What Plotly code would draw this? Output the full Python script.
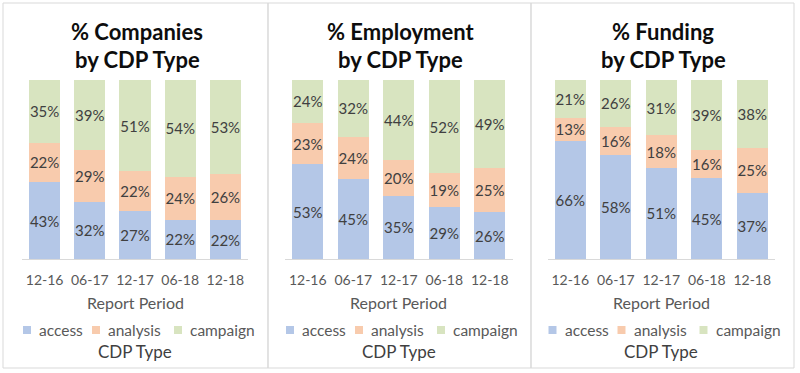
import plotly.graph_objects as go

# ---- data ----
periods = ["12-16", "06-17", "12-17", "06-18", "12-18"]
series_names = ["access", "analysis", "campaign"]

companies_access = [43, 32, 27, 22, 22]
companies_analysis = [22, 29, 22, 24, 26]
companies_campaign = [35, 39, 51, 54, 53]

employment_access = [53, 45, 35, 29, 26]
employment_analysis = [23, 24, 20, 19, 25]
employment_campaign = [24, 32, 44, 52, 49]

funding_access = [66, 58, 51, 45, 37]
funding_analysis = [13, 16, 18, 16, 25]
funding_campaign = [21, 26, 31, 39, 38]

title_line1 = ["% Companies", "% Employment", "% Funding"]
title_line2 = "by CDP Type"
x_title = "Report Period"
legend_title = "CDP Type"

# ---- styling ----
W, H = 800, 373
FONT = "Lato"
colors = ["#b4c7e7", "#f8cbad", "#d8e4c0"]


def px(x):
    return x / W


def py(y):
    return 1 - y / H


panel_data = [
    [companies_access, companies_analysis, companies_campaign],
    [employment_access, employment_analysis, employment_campaign],
    [funding_access, funding_analysis, funding_campaign],
]
panel_edges = [(3, 268), (268, 531), (531, 794)]
plot_edges = [(22, 248), (285, 512.5), (547.5, 775)]
plot_top, plot_bottom = 80, 259

fig = go.Figure()
layout = dict(
    width=W, height=H,
    margin=dict(l=0, r=0, t=0, b=0),
    paper_bgcolor="white", plot_bgcolor="white",
    barmode="stack", barnorm="percent", bargap=0.31,
    showlegend=False,
    font=dict(family=FONT, color="#595959"),
)
annotations = []
shapes = []

for i, (data, (pl, pr), (xl, xr)) in enumerate(zip(panel_data, panel_edges, plot_edges)):
    sfx = "" if i == 0 else str(i + 1)
    for name, vals, col in zip(series_names, data, colors):
        fig.add_trace(go.Bar(
            x=periods, y=vals, name=name,
            text=[f"{v}%" for v in vals],
            textposition="inside", insidetextanchor="middle",
            textangle=0, constraintext="none",
            textfont=dict(family=FONT, size=15, color="#404040"),
            marker=dict(color=col, line=dict(width=0)),
            xaxis="x" + sfx, yaxis="y" + sfx,
        ))
    layout["xaxis" + sfx] = dict(
        domain=[px(xl), px(xr)], anchor="y" + sfx,
        showline=True, linecolor="#d9d9d9", linewidth=1,
        ticks="", showgrid=False, ticklabelstandoff=8,
        tickfont=dict(family=FONT, size=14, color="#595959"),
        fixedrange=True,
    )
    layout["yaxis" + sfx] = dict(
        domain=[py(plot_bottom), py(plot_top)], anchor="x" + sfx,
        range=[0, 100], visible=False, showgrid=False, fixedrange=True,
    )
    # panel border
    shapes.append(dict(type="rect", xref="paper", yref="paper",
                       x0=px(pl), x1=px(pr), y0=py(368), y1=py(3),
                       line=dict(color="#d9d9d9", width=1)))
    cx = (xl + xr) / 2
    # title (two lines)
    for txt, yy in ((title_line1[i], 31), (title_line2, 59)):
        annotations.append(dict(text=f"<b>{txt}</b>", x=px(cx + 2), y=py(yy),
                                xref="paper", yref="paper", showarrow=False,
                                xanchor="center", yanchor="middle",
                                font=dict(family=FONT, size=22, color="#0d0d0d")))
    # axis title
    annotations.append(dict(text=x_title, x=px(cx), y=py(302),
                            xref="paper", yref="paper", showarrow=False,
                            xanchor="center", yanchor="middle",
                            font=dict(family=FONT, size=16, color="#595959")))
    # legend
    sq_off = [1, 70, 152]
    for name, col, off in zip(series_names, colors, sq_off):
        sx = xl + off
        shapes.append(dict(type="rect", xref="paper", yref="paper",
                           x0=px(sx), x1=px(sx + 8), y0=py(334), y1=py(326),
                           fillcolor=col, line=dict(width=0)))
        annotations.append(dict(text=name, x=px(sx + 14), y=py(330),
                                xref="paper", yref="paper", showarrow=False,
                                xanchor="left", yanchor="middle",
                                font=dict(family=FONT, size=15.5, color="#595959")))
    annotations.append(dict(text=legend_title, x=px(cx), y=py(351.5),
                            xref="paper", yref="paper", showarrow=False,
                            xanchor="center", yanchor="middle",
                            font=dict(family=FONT, size=17, color="#404040")))

layout["annotations"] = annotations
layout["shapes"] = shapes
fig.update_layout(**layout)
fig.write_html("out.html", config={"displayModeBar": False},
               post_script="document.body.style.margin='0px';")
